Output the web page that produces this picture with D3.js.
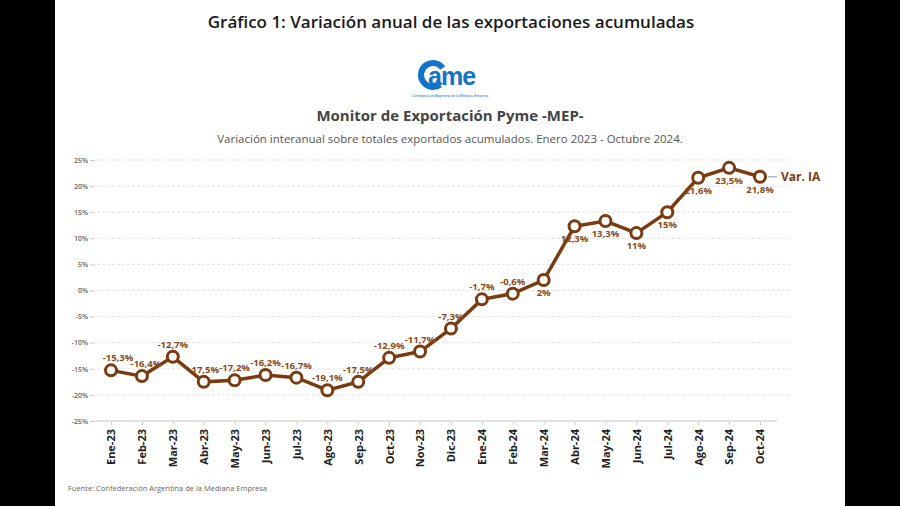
<!DOCTYPE html>
<html><head><meta charset="utf-8">
<script src="https://cdn.jsdelivr.net/npm/d3@7"></script>
<style>
html,body{margin:0;padding:0;background:#000;}
svg{display:block;}
</style></head>
<body>
<svg id="c" width="900" height="506"></svg>
<script>
const categories = ["Ene-23","Feb-23","Mar-23","Abr-23","May-23","Jun-23","Jul-23","Ago-23","Sep-23","Oct-23","Nov-23","Dic-23",
  "Ene-24","Feb-24","Mar-24","Abr-24","May-24","Jun-24","Jul-24","Ago-24","Sep-24","Oct-24"];
const values = [-15.3,-16.4,-12.7,-17.5,-17.2,-16.2,-16.7,-19.1,-17.5,-12.9,-11.7,-7.3,-1.7,-0.6,2,12.3,13.3,11,15,21.6,23.5,21.8];
const labels = ["-15,3%","-16,4%","-12,7%","-17,5%","-17,2%","-16,2%","-16,7%","-19,1%","-17,5%","-12,9%","-11,7%","-7,3%",
  "-1,7%","-0,6%","2%","12,3%","13,3%","11%","15%","21,6%","23,5%","21,8%"];
const labelBelow = [0,0,0,0,0,0,0,0,0,0,0,0,0,0,1,1,1,1,1,1,1,1];
const yTicks = [25,20,15,10,5,0,-5,-10,-15,-20,-25];
const seriesName = "Var. IA";

const brown = "#7a3b10";
const svg = d3.select("#c");
svg.append("rect").attr("x",55).attr("y",0).attr("width",790).attr("height",506).attr("fill","#fff");

svg.append("text").attr("x",451).attr("y",28).attr("text-anchor","middle")
  .style("font-family","Open Sans").style("font-weight","600").style("font-size","17px").attr("fill","#1a1a1a")
  .text("Gráfico 1: Variación anual de las exportaciones acumuladas");

// logo
const lg = svg.append("g");
lg.append("path").attr("d", d3.arc()({innerRadius:9,outerRadius:15,startAngle:0.3*Math.PI,endAngle:1.8*Math.PI}))
  .attr("transform","translate(433,75) rotate(90)").attr("fill","#1273c8");
lg.append("text").attr("x",428).attr("y",85).style("font-family","Liberation Sans").style("font-weight","900")
  .style("font-size","25px").attr("fill","#1273c8").style("letter-spacing","-1px").text("ame");
lg.append("text").attr("x",450).attr("y",97).attr("text-anchor","middle").style("font-family","Liberation Sans")
  .style("font-size","3.5px").attr("fill","#1273c8").text("Confederación Argentina de la Mediana Empresa");

svg.append("text").attr("x",450).attr("y",121).attr("text-anchor","middle")
  .style("font-family","Open Sans").style("font-weight","700").style("font-size","15px").attr("fill","#444")
  .text("Monitor de Exportación Pyme -MEP-");
svg.append("text").attr("x",450).attr("y",143).attr("text-anchor","middle")
  .style("font-family","Open Sans").style("font-size","11.5px").attr("fill","#555")
  .text("Variación interanual sobre totales exportados acumulados. Enero 2023 - Octubre 2024.");

const y = d3.scaleLinear().domain([-25,25]).range([421,160]);
const x = d3.scalePoint().domain(categories).range([111,760]);

// grid
svg.append("g").selectAll("line").data(yTicks.filter(d=>d!==-25)).join("line")
  .attr("x1",97).attr("x2",790).attr("y1",d=>y(d)).attr("y2",d=>y(d))
  .attr("stroke","#e3e3e3").attr("stroke-width",1).attr("stroke-dasharray","3,2");
svg.append("line").attr("x1",95).attr("x2",777).attr("y1",y(-25)).attr("y2",y(-25))
  .attr("stroke","#e0e0e0").attr("stroke-width",2);

const yAxis = d3.axisLeft(y).tickValues(yTicks).tickFormat(d=>d+"%").tickSize(5).tickPadding(2);
const ya = svg.append("g").attr("transform","translate(95,0)").call(yAxis);
ya.select(".domain").remove();
ya.selectAll("line").attr("stroke","#ccc");
ya.selectAll("text").style("font-family","Open Sans").style("font-weight","600").style("font-size","7px").attr("fill","#666");

const xAxis = d3.axisBottom(x).tickSize(3).tickPadding(4);
const xa = svg.append("g").attr("transform",`translate(0,${y(-25)+1})`).call(xAxis);
xa.select(".domain").remove();
xa.selectAll("line").attr("stroke","#ccc");
xa.selectAll("text").attr("transform","rotate(-90)").attr("text-anchor","end")
  .attr("x",-7).attr("y",0).attr("dy","0.35em")
  .style("font-family","Open Sans").style("font-weight","700").style("font-size","11px").attr("fill","#222");

const line = d3.line().x((d,i)=>x(categories[i])).y(d=>y(d));
svg.append("path").datum(values).attr("d",line).attr("fill","none").attr("stroke",brown).attr("stroke-width",3.5);
svg.append("g").selectAll("circle").data(values).join("circle")
  .attr("cx",(d,i)=>x(categories[i])).attr("cy",d=>y(d)).attr("r",5.5)
  .attr("fill","#fff").attr("stroke",brown).attr("stroke-width",3);

const dxOff = i => i===0 ? 7 : (i===1 ? 4 : 0);
const dyOff = i => i===1 ? -9 : -9;
svg.append("g").selectAll("text").data(values).join("text")
  .attr("x",(d,i)=>x(categories[i]) + dxOff(i))
  .attr("y",(d,i)=>labelBelow[i] ? y(d)+16 : y(d)+dyOff(i))
  .attr("text-anchor","middle")
  .style("font-family","Open Sans").style("font-weight","700").style("font-size","9.5px").attr("fill","#8a4a20")
  .text((d,i)=>labels[i]);

const last = values.length-1;
svg.append("line").attr("x1",x(categories[last])+8).attr("x2",x(categories[last])+17)
  .attr("y1",y(values[last])).attr("y2",y(values[last])).attr("stroke","#bbb").attr("stroke-width",1.5);
svg.append("text").attr("x",x(categories[last])+21).attr("y",y(values[last])+4)
  .style("font-family","Open Sans").style("font-weight","700").style("font-size","12px").attr("fill",brown).text(seriesName);

svg.append("text").attr("x",68).attr("y",491)
  .style("font-family","Open Sans").style("font-size","7.5px").attr("fill","#666")
  .text("Fuente: Confederación Argentina de la Mediana Empresa");
</script>
</body></html>
